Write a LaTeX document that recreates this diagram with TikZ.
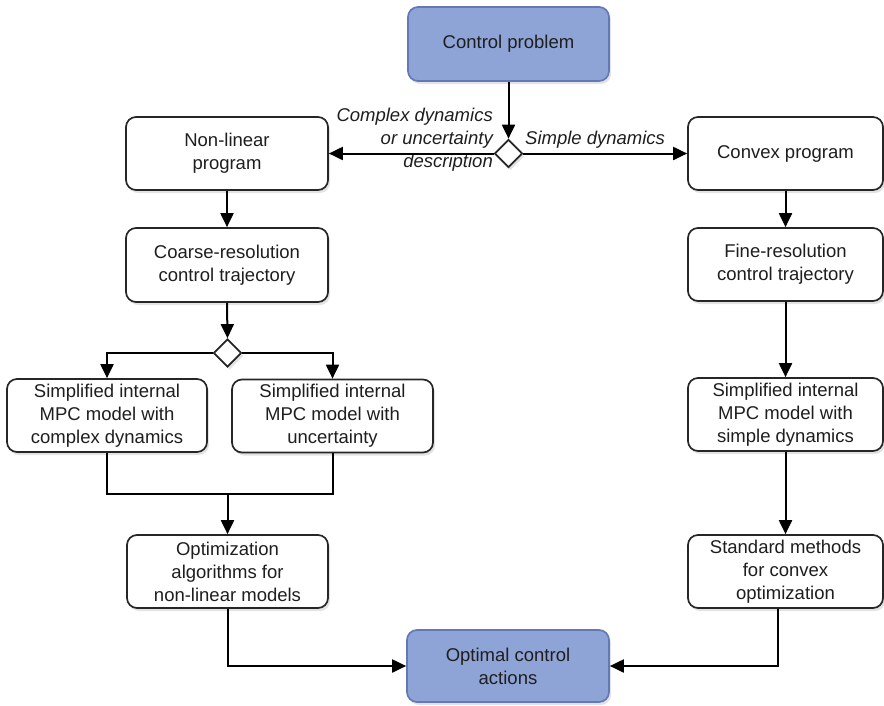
\documentclass[tikz,border=0pt]{standalone}
\usepackage{fontspec}
\setmainfont{Liberation Sans}
\usetikzlibrary{shapes.geometric,arrows.meta,shadows}
\definecolor{bluefill}{HTML}{8FA4D6}
\definecolor{blueline}{HTML}{6379B6}
\definecolor{txt}{HTML}{1E1E1E}
\tikzset{
  box/.style={draw=black!85, line width=1.7pt, rounded corners=10pt, fill=white,
    align=center, inner sep=2pt, text=txt,
    drop shadow={shadow xshift=2pt, shadow yshift=-3pt, opacity=0.22}},
  bluebox/.style={box, draw=blueline, fill=bluefill},
  dec/.style={draw=black!85, line width=1.7pt, diamond, fill=white, inner sep=0pt,
    minimum width=28pt, minimum height=28pt,
    drop shadow={shadow xshift=2pt, shadow yshift=-3pt, opacity=0.22}},
  conn/.style={line width=2pt, draw=black},
  arr/.style={conn, -{Triangle[length=14pt,width=13pt]}},
  lbl/.style={font=\fontsize{18.5}{23}\selectfont\itshape, text=txt, inner sep=0pt},
}
\begin{document}
\begin{tikzpicture}[x=1pt,y=-1pt, font=\fontsize{18.5}{23}\selectfont]
\useasboundingbox (0,0) rectangle (884,705);
% nodes
\node[bluebox, minimum width=201pt, minimum height=74pt] (cp) at (508.5,44) {Control problem};
\node[dec] (d1) at (508.5,153.5) {};
\node[box, minimum width=202pt, minimum height=73pt] (nlp) at (227,153.5) {Non-linear\\program};
\node[box, minimum width=195pt, minimum height=73pt] (cvx) at (785.5,153.5) {Convex program};
\node[box, minimum width=202pt, minimum height=74pt] (coarse) at (227,265) {Coarse-resolution\\control trajectory};
\node[box, minimum width=195pt, minimum height=73pt] (fine) at (785.5,264.5) {Fine-resolution\\control trajectory};
\node[dec] (d2) at (227.5,353) {};
\node[box, minimum width=200pt, minimum height=73pt] (simpL) at (107,415.5) {Simplified internal\\MPC model with\\complex dynamics};
\node[box, minimum width=201pt, minimum height=73pt] (simpM) at (332.5,416) {Simplified internal\\MPC model with\\uncertainty};
\node[box, minimum width=195pt, minimum height=73pt] (simpR) at (785.5,414.5) {Simplified internal\\MPC model with\\simple dynamics};
\node[box, minimum width=201pt, minimum height=73pt] (optalg) at (227.5,571.5) {Optimization\\algorithms for\\non-linear models};
\node[box, minimum width=195pt, minimum height=73pt] (std) at (785.5,571.5) {Standard methods\\for convex\\optimization};
\node[bluebox, minimum width=202pt, minimum height=72pt] (oca) at (508,666) {Optimal control\\actions};
% labels
\node[lbl, anchor=east, align=right] (lc) at (493,140) {Complex dynamics\\or uncertainty\\description};
\node[lbl, anchor=west] (ls) at (525,140) {Simple dynamics};
% connectors
\draw[arr] (cp.south) -- (d1.north);
\draw[arr] (d1.west) -- (nlp.east);
\draw[arr] (d1.east) -- (cvx.west);
\draw[arr] (nlp.south) -- (coarse.north);
\draw[arr] (coarse.south) -- (d2.north);
\draw[arr] (d2.west) -| (simpL.north);
\draw[arr] (d2.east) -| (simpM.north);
\coordinate (join) at (227.5,494);
\draw[conn] (simpL.south) |- (join) -| (simpM.south);
\draw[arr] (join) -- (optalg.north);
\draw[arr] (optalg.south) |- (oca.west);
\draw[arr] (cvx.south) -- (fine.north);
\draw[arr] (fine.south) -- (simpR.north);
\draw[arr] (simpR.south) -- (std.north);
\draw[arr] ([xshift=-8pt]std.south) |- (oca.east);
\end{tikzpicture}
\end{document}
